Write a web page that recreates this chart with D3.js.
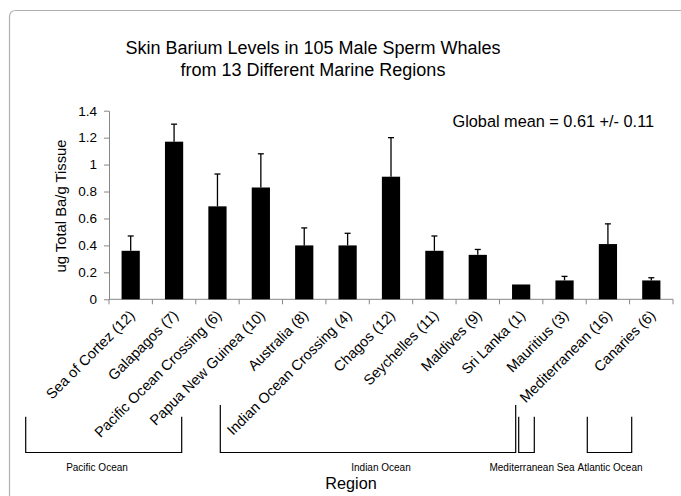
<!DOCTYPE html>
<html lang="en">
<head>
  <meta charset="UTF-8" />
  <title>Skin Barium Levels</title>
  <script src="https://d3js.org/d3.v7.min.js"></script>
  <style>
    body { margin: 0; background: white; }
    svg { display: block; font-family: "Liberation Sans", Arial, sans-serif; }
    .axis path, .axis line { stroke: #868686; }
    .axis text { font-size: 13.5px; fill: black; font-family: "Liberation Sans", Arial, sans-serif; }
  </style>
</head>
<body>
  <svg width="681" height="496"></svg>
  <script>
    // Data
    const regions = ["Sea of Cortez (12)", "Galapagos (7)", "Pacific Ocean Crossing (6)",
      "Papua New Guinea (10)", "Australia (8)", "Indian Ocean Crossing (4)", "Chagos (12)",
      "Seychelles (11)", "Maldives (9)", "Sri Lanka (1)", "Mauritius (3)",
      "Mediterranean (16)", "Canaries (6)"];
    const means = [0.36, 1.17, 0.69, 0.83, 0.40, 0.40, 0.91, 0.36, 0.33, 0.11, 0.14, 0.41, 0.14];
    const errors = [0.11, 0.13, 0.24, 0.25, 0.13, 0.09, 0.29, 0.11, 0.04, 0, 0.03, 0.15, 0.02];
    const yTicks = [0, 0.2, 0.4, 0.6, 0.8, 1, 1.2, 1.4];
    const oceanGroups = ["Pacific Ocean", "Indian Ocean", "Mediterranean Sea", "Atlantic Ocean"];

    const svg = d3.select("svg");
    const margin = { left: 109, right: 8, top: 110.7, bottom: 196.7 };
    const width = 681, height = 496;

    // frame (only top and left edges visible)
    svg.append("path")
      .attr("d", `M9.5,496 V17 Q9.5,10.5 16,10.5 H681`)
      .attr("fill", "none")
      .attr("stroke", "#b0b0b0")
      .attr("stroke-width", 1.2);

    const x = d3.scaleBand()
      .domain(regions)
      .range([margin.left, width - margin.right])
      .paddingInner(0.58)
      .paddingOuter(0.29);

    const y = d3.scaleLinear()
      .domain([0, 1.4])
      .range([height - margin.bottom, margin.top]);

    // Title
    svg.append("text")
      .attr("x", 313).attr("y", 54)
      .attr("text-anchor", "middle")
      .style("font-size", "18px")
      .text("Skin Barium Levels in 105 Male Sperm Whales");
    svg.append("text")
      .attr("x", 313).attr("y", 76)
      .attr("text-anchor", "middle")
      .style("font-size", "18px")
      .text("from 13 Different Marine Regions");

    // Y axis
    svg.append("g")
      .attr("class", "axis")
      .attr("transform", `translate(${margin.left},0)`)
      .call(d3.axisLeft(y).tickValues(yTicks).tickSize(5).tickSizeOuter(0).tickPadding(7)
        .tickFormat(d3.format("")));

    // X axis baseline with ticks at category boundaries
    const xAxisG = svg.append("g").attr("class", "axis");
    const step = x.step();
    const x0 = x.range()[0];
    xAxisG.append("line")
      .attr("x1", x0).attr("x2", x.range()[1])
      .attr("y1", y(0)).attr("y2", y(0));
    xAxisG.selectAll(".tk")
      .data(d3.range(regions.length + 1))
      .enter().append("line")
      .attr("x1", i => x0 + i * step).attr("x2", i => x0 + i * step)
      .attr("y1", y(0)).attr("y2", y(0) + 5);

    // Bars
    svg.selectAll(".bar")
      .data(regions)
      .enter().append("rect")
      .attr("class", "bar")
      .attr("x", d => x(d))
      .attr("width", x.bandwidth())
      .attr("y", (d, i) => y(means[i]))
      .attr("height", (d, i) => y(0) - y(means[i]))
      .attr("fill", "black");

    // Error bars (upper only)
    const eb = svg.selectAll(".err")
      .data(regions.filter((d, i) => errors[i] > 0))
      .enter().append("g")
      .attr("class", "err")
      .attr("stroke", "black")
      .attr("stroke-width", 1.3);
    eb.append("line")
      .attr("x1", d => x(d) + x.bandwidth() / 2)
      .attr("x2", d => x(d) + x.bandwidth() / 2)
      .attr("y1", d => y(means[regions.indexOf(d)]))
      .attr("y2", d => { const i = regions.indexOf(d); return y(means[i] + errors[i]); });
    eb.append("line")
      .attr("x1", d => x(d) + x.bandwidth() / 2 - 3)
      .attr("x2", d => x(d) + x.bandwidth() / 2 + 3)
      .attr("y1", d => { const i = regions.indexOf(d); return y(means[i] + errors[i]); })
      .attr("y2", d => { const i = regions.indexOf(d); return y(means[i] + errors[i]); });

    // Rotated category labels
    svg.selectAll(".xlab")
      .data(regions)
      .enter().append("text")
      .attr("class", "xlab")
      .attr("text-anchor", "end")
      .style("font-size", "14.5px")
      .attr("transform", d => `translate(${x(d) + x.bandwidth() / 2 + 5},${y(0) + 17}) rotate(-45)`)
      .text(d => d);

    // Global mean note
    svg.append("text")
      .attr("x", 452.5).attr("y", 127)
      .style("font-size", "16.3px")
      .text("Global mean = 0.61 +/- 0.11");

    // Y label
    svg.append("text")
      .attr("transform", `translate(66,206) rotate(-90)`)
      .attr("text-anchor", "middle")
      .style("font-size", "14.8px")
      .text("ug Total Ba/g Tissue");

    // Ocean brackets (annotation layout)
    const bracketLayout = [
      { x1: 25.7, x2: 181.7, top1: 416.7, top2: 416.7, lx: 97 },
      { x1: 220.3, x2: 515.7, top1: 405, top2: 405, lx: 381 },
      { x1: 518.7, x2: 534.3, top1: 416.7, top2: 416.7, lx: 532 },
      { x1: 587.3, x2: 631.7, top1: 416.7, top2: 416.7, lx: 610 }
    ];
    const bottomY = 452.5;
    const br = svg.selectAll(".bracket")
      .data(oceanGroups)
      .enter().append("g")
      .attr("class", "bracket");
    br.append("path")
      .attr("d", (d, i) => {
        const b = bracketLayout[i];
        return `M${b.x1},${b.top1} V${bottomY} H${b.x2} V${b.top2}`;
      })
      .attr("fill", "none")
      .attr("stroke", "black")
      .attr("stroke-width", 1.2);
    br.append("text")
      .attr("x", (d, i) => bracketLayout[i].lx)
      .attr("y", 470.5)
      .attr("text-anchor", "middle")
      .style("font-size", "10px")
      .text(d => d);

    // X label
    svg.append("text")
      .attr("x", 351).attr("y", 489)
      .attr("text-anchor", "middle")
      .style("font-size", "16.2px")
      .text("Region");
  </script>
</body>
</html>
